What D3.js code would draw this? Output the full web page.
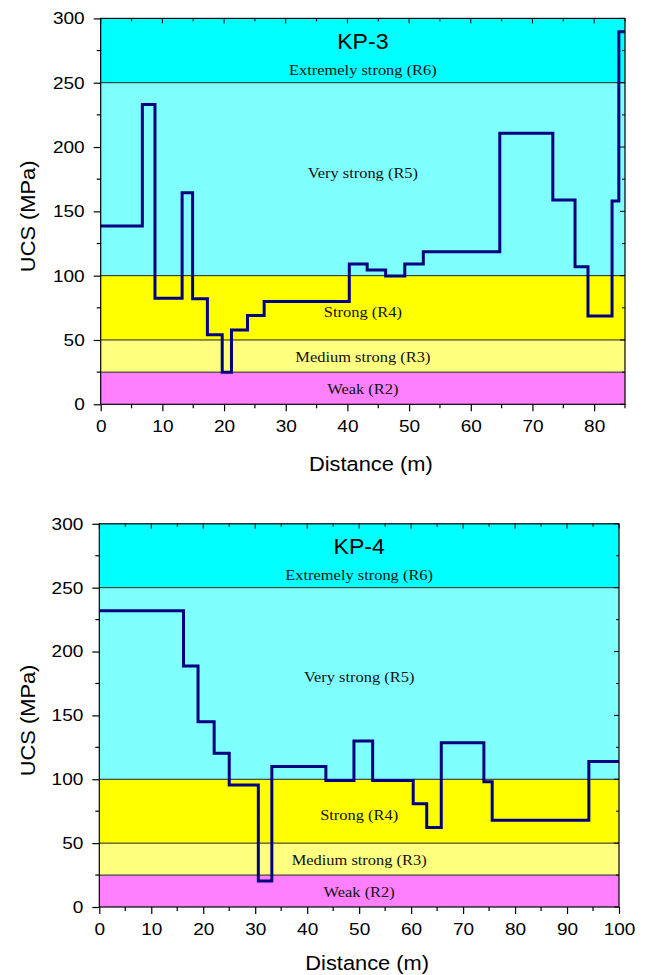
<!DOCTYPE html>
<html><head><meta charset="utf-8">
<script src="https://cdn.jsdelivr.net/npm/d3@7"></script>
<style>body{margin:0;background:#fff}svg{display:block}</style>
</head><body>
<svg id="c" width="648" height="975"></svg>
<script>
// ---- data ----
const zoneNames = ["Weak (R2)", "Medium strong (R3)", "Strong (R4)", "Very strong (R5)", "Extremely strong (R6)"];
const zoneLower = [0, 25, 50, 100, 250];
const zoneUpper = [25, 50, 100, 250, 300];
const zoneLabelAt = [12, 37, 72, 180, 260];
const zoneColors = ["#ff80ff", "#ffff80", "#ffff00", "#80ffff", "#00ffff"];
const yTicks = [0, 50, 100, 150, 200, 250, 300];

const kp3Dist = [0, 6.75, 8.8, 13.2, 14.9, 17.3, 19.7, 21.2, 23.8, 26.5, 40.3, 43.2, 46.2, 49.3, 52.3, 64.7, 73.3, 76.9, 79.0, 82.9, 84.0, 85];
const kp3UCS  = [138.6, 233, 82.4, 164.5, 82, 54, 25, 57.8, 69, 80, 109, 104.4, 99.7, 109, 118.6, 210.7, 158.8, 107, 68.6, 158, 289.7];
const kp3XTicks = [0, 10, 20, 30, 40, 50, 60, 70, 80];

const kp4Dist = [0, 16.2, 19.0, 22.1, 25.0, 30.6, 33.2, 43.6, 49.0, 52.6, 60.4, 63.0, 65.8, 74.0, 75.6, 94.2, 100];
const kp4UCS  = [232, 188.6, 145, 120.3, 95.5, 20.3, 110, 99, 130, 99, 80.8, 62.3, 128.6, 98, 68, 114];
const kp4XTicks = [0, 10, 20, 30, 40, 50, 60, 70, 80, 90, 100];

const svg = d3.select("#c");
const SX = 1.12;   // horizontal stretch of sans text
const font = "Liberation Sans, Arial, sans-serif";

function panel(o) {
  const x = d3.scaleLinear().domain([0, o.xMax]).range([o.left, o.right]);
  const y = d3.scaleLinear().domain([0, 300]).range([o.bottom, o.top]);
  const g = svg.append("g");
  const cx = (x(0) + x(o.xMax)) / 2;

  zoneNames.forEach((n, i) => {
    g.append("rect").attr("x", x(0)).attr("width", x(o.xMax) - x(0))
      .attr("y", y(zoneUpper[i])).attr("height", y(zoneLower[i]) - y(zoneUpper[i]))
      .attr("fill", zoneColors[i]);
  });
  zoneLower.slice(1).forEach(v => {
    g.append("line").attr("x1", x(0)).attr("x2", x(o.xMax)).attr("y1", y(v)).attr("y2", y(v))
      .attr("stroke", "#222").attr("stroke-width", 1);
  });
  zoneNames.forEach((n, i) => {
    g.append("text").attr("transform", `translate(${cx},${y(zoneLabelAt[i])}) scale(1.06,1)`)
      .attr("text-anchor", "middle").attr("dominant-baseline", "central")
      .attr("font-family", "Liberation Serif, Times New Roman, serif").attr("font-size", 15.5)
      .attr("fill", "#111").text(n);
  });
  g.append("text").attr("transform", `translate(${cx},${y(282)}) scale(1.05,1)`)
    .attr("text-anchor", "middle").attr("dominant-baseline", "central")
    .attr("font-family", font).attr("font-size", 22).text(o.title);

  const pts = o.dist.map((d, i) => [d, i < o.ucs.length ? o.ucs[i] : o.ucs[o.ucs.length - 1]]);
  const line = d3.line().x(d => x(d[0])).y(d => y(d[1])).curve(d3.curveStepAfter);
  g.append("path").datum(pts).attr("d", line).attr("fill", "none")
    .attr("stroke", "#000080").attr("stroke-width", 3).attr("stroke-linejoin", "miter");

  g.append("rect").attr("x", x(0)).attr("y", y(300)).attr("width", x(o.xMax) - x(0))
    .attr("height", y(0) - y(300)).attr("fill", "none").attr("stroke", "#000").attr("stroke-width", 1.2);

  // bottom axis
  const minorX = d3.range(0, o.xMax + 0.01, 5);
  const xAx = g.append("g").attr("transform", `translate(0,${y(0)})`)
    .call(d3.axisBottom(x).tickValues(o.xTicks).tickFormat(d3.format("d")).tickSize(7).tickPadding(9));
  xAx.select(".domain").remove();
  xAx.selectAll("text").attr("font-family", font).attr("font-size", 17).attr("fill", "#000")
    .attr("transform", `scale(${SX},1)`);
  xAx.selectAll("line").attr("stroke-width", 1.2);
  g.selectAll(null).data(minorX.filter(v => v % 10 !== 0)).enter().append("line")
    .attr("x1", d => x(d)).attr("x2", d => x(d)).attr("y1", y(0)).attr("y2", y(0) + 4)
    .attr("stroke", "#000").attr("stroke-width", 1.2);
  g.selectAll(null).data(minorX).enter().append("line")
    .attr("x1", d => x(d)).attr("x2", d => x(d)).attr("y1", y(300)).attr("y2", d => y(300) + (d % 10 === 0 ? 5 : 3))
    .attr("stroke", "#000").attr("stroke-width", 1);

  // left axis
  const yAx = g.append("g").attr("transform", `translate(${x(0)},0)`)
    .call(d3.axisLeft(y).tickValues(yTicks).tickSize(7).tickPadding(9));
  yAx.select(".domain").remove();
  yAx.selectAll("text").attr("font-family", font).attr("font-size", 17).attr("fill", "#000")
    .attr("x", -16 / SX).attr("transform", `scale(${SX},1)`);
  yAx.selectAll("line").attr("stroke-width", 1.2);
  g.selectAll(null).data(d3.range(25, 300, 50)).enter().append("line")
    .attr("x1", x(0) - 4).attr("x2", x(0)).attr("y1", d => y(d)).attr("y2", d => y(d))
    .attr("stroke", "#000").attr("stroke-width", 1.2);
  g.selectAll(null).data(d3.range(0, 301, 25)).enter().append("line")
    .attr("x1", d => x(o.xMax) - (d % 50 === 0 ? 5 : 3)).attr("x2", x(o.xMax))
    .attr("y1", d => y(d)).attr("y2", d => y(d))
    .attr("stroke", "#000").attr("stroke-width", 1);

  g.append("text").attr("transform", `translate(${cx + 8},${y(0) + o.xTitleOff}) scale(${SX},1)`)
    .attr("text-anchor", "middle").attr("dominant-baseline", "central")
    .attr("font-family", font).attr("font-size", 19.5).text("Distance (m)");
  g.append("text").attr("transform", `translate(28,${(y(0) + y(300)) / 2 + 5}) rotate(-90) scale(${SX},1)`)
    .attr("text-anchor", "middle").attr("dominant-baseline", "central")
    .attr("font-family", font).attr("font-size", 19.5).text("UCS (MPa)");
}

panel({title: "KP-3", dist: kp3Dist, ucs: kp3UCS, xMax: 85, xTicks: kp3XTicks,
       left: 100.7, right: 625, top: 18.4, bottom: 404.3, xTitleOff: 60});
panel({title: "KP-4", dist: kp4Dist, ucs: kp4UCS, xMax: 100, xTicks: kp4XTicks,
       left: 99.3, right: 619, top: 523.8, bottom: 907, xTitleOff: 56});
</script>
</body></html>
